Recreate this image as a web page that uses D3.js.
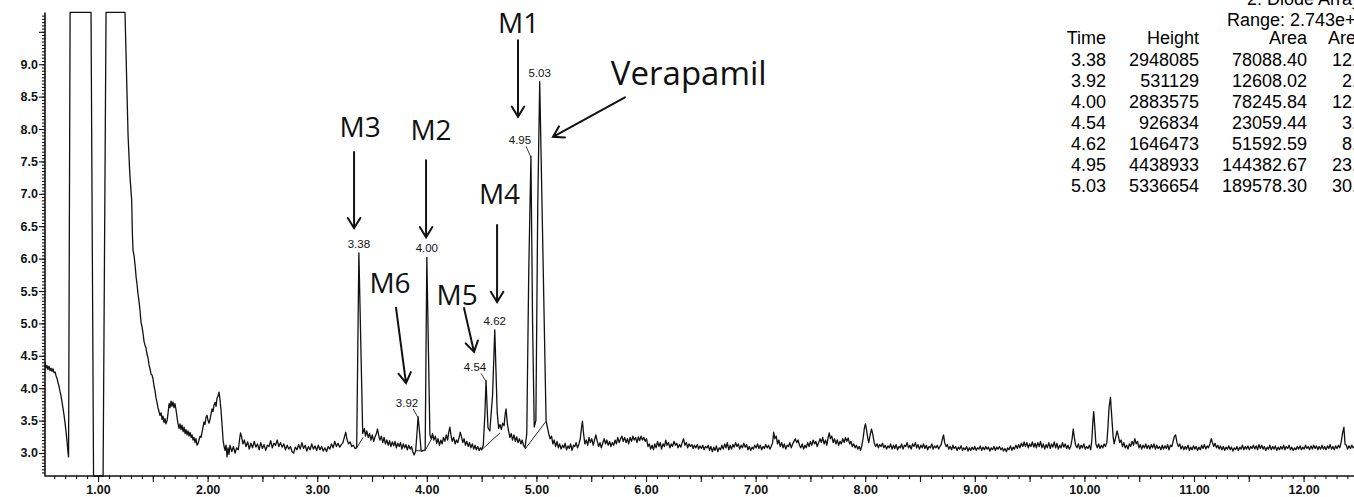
<!DOCTYPE html>
<html lang="en">
<head>
<meta charset="UTF-8">
<title>Chromatogram</title>
<script src="https://d3js.org/d3.v7.min.js"></script>
<style>
  body { margin: 0; background: #fff; overflow: hidden; }
  svg { display: block; }
  .axis text { font-family: "Liberation Sans", Arial, sans-serif; font-size: 12.5px; font-weight: bold; fill: #111; }
  .axis line, .axis path { stroke: #111; }
  .peak-label { font-family: "Liberation Sans", Arial, sans-serif; font-size: 11.5px; fill: #111; }
  .callout { font-family: "Open Sans", sans-serif; fill: #111; }
  .table text { font-family: "Liberation Sans", Arial, sans-serif; font-size: 18px; fill: #000; }
</style>
</head>
<body>
<script>
// trace: [time (min), signal]
const trace = [
  [0.516,4.40],[0.525,4.31],[0.534,4.35],[0.543,4.29],[0.553,4.34],[0.562,4.27],[0.571,4.31],[0.580,4.26],[0.589,4.30],[0.598,4.24],
  [0.608,4.25],[0.617,4.19],[0.626,4.15],[0.635,4.08],[0.644,4.03],[0.653,3.95],[0.662,3.88],[0.672,3.78],[0.681,3.68],[0.690,3.58],
  [0.699,3.46],[0.708,3.33],[0.717,3.18],[0.725,3.02],[0.731,2.94],
  [0.745,9.80],[0.936,9.80],[0.959,2.645],[1.046,2.645],[1.073,9.80],[1.246,9.80],
  [1.274,7.90],[1.290,7.30],[1.307,6.90],[1.313,6.40],[1.319,6.13],[1.328,6.05],[1.338,5.90],[1.347,5.72],[1.356,5.60],[1.365,5.45],
  [1.374,5.34],[1.383,5.20],[1.392,5.02],[1.401,4.95],[1.411,4.84],[1.420,4.72],[1.429,4.66],[1.438,4.62],[1.447,4.52],[1.456,4.47],
  [1.465,4.36],[1.474,4.30],[1.483,4.22],[1.493,4.20],[1.502,4.14],[1.511,4.03],[1.520,3.96],[1.529,3.85],[1.538,3.78],[1.547,3.70],
  [1.556,3.64],[1.565,3.58],[1.575,3.62],[1.584,3.52],[1.593,3.57],[1.602,3.47],[1.611,3.53],[1.620,3.45],[1.630,3.50],[1.639,3.62],
  [1.648,3.76],[1.657,3.70],[1.666,3.80],[1.675,3.72],[1.684,3.79],[1.693,3.70],[1.702,3.76],[1.712,3.66],[1.721,3.55],[1.730,3.45],
  [1.739,3.38],[1.748,3.45],[1.757,3.36],[1.766,3.43],[1.776,3.33],[1.785,3.40],[1.794,3.30],[1.803,3.36],[1.812,3.28],[1.821,3.34],
  [1.830,3.26],[1.840,3.32],[1.849,3.24],[1.858,3.28],[1.867,3.20],[1.876,3.24],[1.885,3.16],[1.894,3.22],[1.903,3.12],[1.912,3.14],
  [1.921,3.20],[1.931,3.26],[1.940,3.24],[1.949,3.32],[1.958,3.40],[1.967,3.48],[1.976,3.44],[1.985,3.55],[1.995,3.58],[2.004,3.50],
  [2.013,3.46],[2.022,3.52],[2.031,3.60],[2.040,3.68],[2.049,3.64],[2.058,3.74],[2.068,3.78],[2.077,3.72],[2.086,3.85],[2.095,3.88],
  [2.104,3.94],[2.113,3.82],[2.122,3.66],[2.131,3.45],[2.141,3.20],[2.150,3.10],[2.159,3.04],[2.168,3.12],[2.177,2.94],[2.186,3.08],
  [2.195,2.98],[2.204,3.12],
  [2.220,3.02],[2.235,3.10],[2.250,3.00],[2.265,3.08],[2.280,3.05],[2.292,3.22],[2.300,3.31],[2.310,3.25],[2.322,3.14],[2.335,3.20],
  [2.350,3.10],[2.365,3.17],[2.380,3.06],[2.395,3.15],[2.410,3.08],[2.425,3.18],[2.440,3.09],[2.455,3.14],[2.470,3.05],[2.485,3.16],
  [2.500,3.07],[2.515,3.13],[2.530,3.04],[2.545,3.12],[2.560,3.10],[2.575,3.19],[2.590,3.08],[2.605,3.15],[2.620,3.12],[2.635,3.20],
  [2.650,3.10],[2.665,3.16],[2.680,3.09],[2.695,3.14],[2.710,3.05],[2.725,3.12],[2.740,3.06],[2.755,3.10],[2.770,3.02],[2.785,3.00],
  [2.800,3.09],[2.815,3.05],[2.830,3.13],[2.845,3.06],[2.860,3.16],[2.875,3.07],[2.890,3.12],[2.905,3.03],[2.920,3.10],[2.935,3.05],
  [2.950,3.14],[2.965,3.06],[2.980,3.11],[2.995,3.04],[3.010,3.12],[3.025,3.05],[3.040,3.10],[3.055,3.03],[3.070,3.08],[3.085,3.02],
  [3.100,3.10],[3.115,3.06],[3.130,3.14],[3.145,3.08],[3.160,3.18],[3.175,3.10],[3.190,3.15],[3.205,3.09],[3.220,3.13],[3.235,3.16],
  [3.250,3.26],[3.260,3.32],[3.270,3.22],[3.285,3.14],[3.300,3.17],[3.315,3.10],[3.330,3.12],[3.345,3.07],[3.360,3.08],
  [3.380,6.09],[3.415,3.30],
  [3.430,3.38],[3.440,3.26],[3.452,3.34],[3.465,3.24],[3.478,3.30],[3.490,3.20],[3.502,3.28],[3.515,3.18],[3.528,3.25],[3.540,3.30],
  [3.550,3.37],[3.560,3.28],[3.572,3.20],[3.585,3.26],[3.598,3.16],[3.610,3.24],[3.622,3.14],[3.635,3.20],[3.648,3.12],[3.660,3.19],
  [3.672,3.10],[3.685,3.17],[3.698,3.11],[3.710,3.18],[3.722,3.08],[3.735,3.15],[3.748,3.10],[3.760,3.16],[3.772,3.06],[3.785,3.14],
  [3.798,3.08],[3.810,3.13],[3.822,3.05],[3.835,3.12],[3.848,3.06],[3.860,3.10],[3.872,3.02],[3.884,2.97],[3.898,3.03],
  [3.910,3.30],[3.920,3.56],[3.935,3.30],[3.948,3.03],[3.970,3.04],[3.985,3.05],[4.000,6.02],[4.028,3.28],
  [4.040,3.22],[4.052,3.30],[4.065,3.20],[4.078,3.26],[4.090,3.15],[4.102,3.22],[4.115,3.12],[4.128,3.20],[4.140,3.14],[4.152,3.24],
  [4.165,3.18],[4.178,3.28],[4.190,3.20],[4.200,3.32],[4.210,3.40],[4.220,3.28],[4.232,3.18],[4.245,3.24],[4.258,3.14],[4.270,3.20],
  [4.282,3.16],[4.295,3.24],[4.305,3.32],[4.315,3.26],[4.328,3.16],[4.340,3.22],[4.352,3.12],[4.365,3.18],[4.378,3.10],[4.390,3.16],
  [4.402,3.08],[4.415,3.14],[4.428,3.06],[4.440,3.12],[4.452,3.05],[4.465,3.10],[4.478,3.04],[4.490,3.08],[4.500,3.05],
  [4.515,3.12],[4.530,3.60],[4.540,4.12],[4.558,3.39],[4.575,3.34],[4.600,3.90],[4.620,4.90],[4.642,3.63],[4.655,3.38],[4.668,3.44],
  [4.680,3.36],[4.692,3.46],[4.705,3.42],[4.715,3.60],[4.723,3.68],[4.735,3.45],[4.745,3.35],[4.758,3.24],[4.770,3.30],[4.782,3.20],
  [4.795,3.28],[4.808,3.18],[4.820,3.25],[4.832,3.16],[4.845,3.22],[4.858,3.14],[4.870,3.20],[4.882,3.12],[4.896,3.08],
  [4.912,3.30],[4.930,5.80],[4.950,7.58],[4.965,5.00],[4.980,3.40],[4.995,3.50],[5.012,6.80],[5.030,8.73],[5.088,3.50],
  [5.100,3.40],[5.112,3.30],[5.125,3.22],[5.138,3.26],[5.150,3.14],[5.162,3.20],[5.175,3.10],[5.188,3.18],[5.200,3.08],[5.212,3.14],
  [5.225,3.06],[5.238,3.12],[5.250,3.08],[5.262,3.15],[5.275,3.05],[5.288,3.11],[5.300,3.07],[5.312,3.14],[5.325,3.04],[5.338,3.12],
  [5.350,3.10],[5.362,3.16],[5.375,3.08],[5.388,3.14],[5.400,3.22],[5.412,3.40],[5.420,3.49],[5.430,3.30],[5.442,3.14],[5.455,3.20],
  [5.468,3.12],[5.480,3.24],[5.492,3.16],[5.505,3.22],[5.518,3.12],[5.530,3.20],[5.542,3.28],[5.555,3.18],[5.568,3.10],[5.580,3.16],
  [5.592,3.08],[5.605,3.15],[5.618,3.22],[5.630,3.14],[5.642,3.20],[5.655,3.12],[5.668,3.18],[5.680,3.10],[5.692,3.16],[5.705,3.12],
  [5.718,3.20],[5.730,3.14],[5.742,3.24],[5.755,3.16],[5.768,3.22],[5.780,3.26],[5.792,3.18],[5.805,3.24],[5.818,3.16],[5.830,3.22],
  [5.842,3.14],[5.855,3.24],[5.868,3.18],[5.880,3.26],[5.892,3.20],[5.905,3.24],[5.918,3.16],[5.930,3.25],[5.942,3.19],[5.955,3.26],
  [5.968,3.20],[5.980,3.24],[5.992,3.18],[6.005,3.22],[6.018,3.10],[6.030,3.14],[6.042,3.06],[6.055,3.12],[6.068,3.05],[6.080,3.14],
  [6.092,3.08],[6.105,3.18],[6.118,3.10],[6.130,3.16],[6.142,3.06],[6.155,3.14],[6.168,3.10],[6.180,3.20],[6.192,3.12],[6.205,3.16],
  [6.218,3.08],[6.230,3.14],[6.242,3.10],[6.255,3.18],[6.268,3.12],[6.280,3.15],[6.292,3.08],[6.305,3.13],[6.318,3.09],[6.330,3.16],
  [6.342,3.22],[6.355,3.12],[6.368,3.16],[6.380,3.08],[6.392,3.14],[6.405,3.10],[6.418,3.13],[6.430,3.07],[6.442,3.12],[6.455,3.08],
  [6.468,3.13],[6.480,3.06],[6.492,3.11],[6.505,3.07],[6.518,3.12],[6.530,3.05],[6.542,3.10],[6.555,3.08],[6.568,3.12],[6.580,3.04],
  [6.592,3.10],[6.605,3.02],[6.618,3.09],[6.630,3.04],[6.642,3.11],[6.655,3.02],[6.668,3.08],[6.680,3.05],[6.692,3.12],[6.705,3.06],
  [6.718,3.14],[6.730,3.08],[6.742,3.16],[6.755,3.05],[6.768,3.12],[6.780,3.06],[6.792,3.13],[6.805,3.09],[6.818,3.16],[6.830,3.10],
  [6.842,3.14],[6.855,3.06],[6.868,3.12],[6.880,3.08],[6.892,3.15],[6.905,3.09],[6.918,3.13],[6.930,3.05],[6.942,3.10],[6.955,3.04],
  [6.968,3.09],[6.980,3.06],[6.992,3.12],[7.005,3.08],[7.018,3.14],[7.030,3.07],[7.042,3.12],[7.055,3.05],[7.068,3.10],[7.080,3.07],
  [7.092,3.13],[7.105,3.08],[7.118,3.12],[7.130,3.06],[7.142,3.10],[7.155,3.16],[7.165,3.32],[7.175,3.22],[7.188,3.26],[7.200,3.14],
  [7.212,3.20],[7.225,3.10],[7.238,3.16],[7.250,3.08],[7.262,3.14],[7.275,3.06],[7.288,3.12],[7.300,3.10],[7.312,3.16],[7.325,3.08],
  [7.338,3.14],[7.350,3.18],[7.362,3.22],[7.375,3.16],[7.388,3.20],[7.400,3.12],[7.412,3.08],[7.425,3.14],[7.438,3.06],[7.450,3.12],
  [7.462,3.08],[7.475,3.16],[7.488,3.10],[7.500,3.18],[7.512,3.12],[7.525,3.20],[7.538,3.14],[7.550,3.18],[7.562,3.10],[7.575,3.16],
  [7.588,3.22],[7.600,3.16],[7.612,3.24],[7.625,3.14],[7.638,3.20],[7.650,3.12],[7.662,3.24],[7.672,3.31],[7.682,3.22],[7.695,3.26],
  [7.708,3.16],[7.720,3.22],[7.732,3.14],[7.745,3.20],[7.758,3.12],[7.770,3.18],[7.782,3.14],[7.795,3.22],[7.808,3.16],[7.820,3.24],
  [7.832,3.18],[7.845,3.23],[7.858,3.14],[7.870,3.18],[7.882,3.10],[7.895,3.14],[7.908,3.08],[7.920,3.12],[7.932,3.06],[7.945,3.10],
  [7.958,3.04],[7.970,3.12],[7.982,3.24],[7.992,3.38],[8.002,3.45],[8.012,3.36],[8.022,3.24],[8.032,3.16],[8.045,3.28],[8.058,3.37],
  [8.070,3.28],[8.082,3.16],[8.095,3.10],[8.108,3.14],[8.120,3.08],[8.132,3.13],[8.145,3.10],[8.158,3.15],[8.170,3.08],[8.182,3.12],
  [8.195,3.06],[8.208,3.11],[8.220,3.08],[8.232,3.14],[8.245,3.06],[8.258,3.12],[8.270,3.07],[8.282,3.13],[8.295,3.05],[8.308,3.10],
  [8.320,3.08],[8.332,3.14],[8.345,3.06],[8.358,3.12],[8.370,3.10],[8.382,3.16],[8.395,3.08],[8.408,3.12],[8.420,3.06],[8.432,3.14],
  [8.445,3.10],[8.458,3.16],[8.470,3.08],[8.482,3.13],[8.495,3.06],[8.508,3.12],[8.520,3.08],[8.532,3.14],[8.545,3.07],[8.558,3.12],
  [8.570,3.05],[8.582,3.10],[8.595,3.08],[8.608,3.14],[8.620,3.06],[8.632,3.11],[8.645,3.08],[8.658,3.12],[8.670,3.06],[8.682,3.10],
  [8.695,3.14],[8.705,3.22],[8.715,3.28],[8.725,3.16],[8.738,3.10],[8.750,3.13],[8.762,3.06],[8.775,3.10],[8.788,3.05],[8.800,3.12],
  [8.812,3.07],[8.825,3.10],[8.838,3.04],[8.850,3.09],[8.862,3.06],[8.875,3.11],[8.888,3.04],[8.900,3.08],[8.912,3.05],[8.925,3.10],
  [8.938,3.03],[8.950,3.08],[8.962,3.04],[8.975,3.09],[8.988,3.05],[9.000,3.10],[9.012,3.04],[9.025,3.08],[9.038,3.06],[9.050,3.11],
  [9.062,3.04],[9.075,3.09],[9.088,3.05],[9.100,3.10],[9.112,3.06],[9.125,3.09],[9.138,3.03],[9.150,3.08],[9.162,3.05],[9.175,3.10],
  [9.188,3.04],[9.200,3.09],[9.212,3.06],[9.225,3.10],[9.238,3.05],[9.250,3.08],[9.262,3.03],[9.275,3.07],[9.288,3.02],[9.300,3.08],
  [9.312,3.05],[9.325,3.11],[9.338,3.04],[9.350,3.09],[9.362,3.06],[9.375,3.12],[9.388,3.07],[9.400,3.13],[9.412,3.08],[9.425,3.15],
  [9.438,3.10],[9.450,3.17],[9.462,3.10],[9.475,3.16],[9.488,3.08],[9.500,3.14],[9.512,3.10],[9.525,3.17],[9.538,3.09],[9.550,3.15],
  [9.562,3.08],[9.575,3.16],[9.588,3.10],[9.600,3.18],[9.612,3.08],[9.625,3.14],[9.638,3.06],[9.650,3.13],[9.662,3.08],[9.675,3.16],
  [9.688,3.07],[9.700,3.14],[9.712,3.09],[9.725,3.17],[9.738,3.08],[9.750,3.15],[9.762,3.06],[9.775,3.12],[9.788,3.08],[9.800,3.16],
  [9.812,3.09],[9.825,3.14],[9.838,3.07],[9.850,3.12],[9.862,3.06],[9.875,3.10],[9.888,3.22],[9.898,3.37],[9.908,3.24],[9.920,3.12],
  [9.932,3.08],[9.945,3.14],[9.958,3.06],[9.970,3.12],[9.982,3.08],[9.995,3.14],[10.008,3.06],[10.020,3.10],[10.032,3.07],[10.045,3.12],
  [10.058,3.05],[10.068,3.20],[10.078,3.50],[10.085,3.64],[10.095,3.40],[10.105,3.14],[10.118,3.08],[10.130,3.14],[10.142,3.07],[10.155,3.12],
  [10.168,3.08],[10.180,3.14],[10.192,3.10],[10.205,3.16],[10.215,3.40],[10.225,3.70],[10.238,3.86],[10.250,3.55],[10.262,3.25],[10.272,3.14],
  [10.285,3.24],[10.298,3.34],[10.310,3.26],[10.322,3.16],[10.335,3.20],[10.348,3.10],[10.360,3.16],[10.372,3.08],[10.385,3.12],[10.398,3.06],
  [10.410,3.14],[10.422,3.10],[10.435,3.18],[10.448,3.12],[10.460,3.22],[10.472,3.14],[10.485,3.18],[10.498,3.08],[10.510,3.13],[10.522,3.06],
  [10.535,3.12],[10.548,3.08],[10.560,3.14],[10.572,3.07],[10.585,3.12],[10.598,3.06],[10.610,3.13],[10.622,3.08],[10.635,3.14],[10.648,3.06],
  [10.660,3.12],[10.672,3.07],[10.685,3.10],[10.698,3.05],[10.710,3.12],[10.722,3.06],[10.735,3.11],[10.748,3.07],[10.760,3.13],[10.772,3.05],
  [10.785,3.12],[10.798,3.10],[10.810,3.18],[10.822,3.26],[10.832,3.28],[10.845,3.16],[10.858,3.10],[10.870,3.14],[10.882,3.06],[10.895,3.11],
  [10.908,3.05],[10.920,3.10],[10.932,3.06],[10.945,3.12],[10.958,3.04],[10.970,3.09],[10.982,3.05],[10.995,3.11],[11.008,3.06],[11.020,3.10],
  [11.032,3.04],[11.045,3.09],[11.058,3.05],[11.070,3.12],[11.082,3.07],[11.095,3.13],[11.108,3.06],[11.120,3.11],[11.132,3.08],[11.145,3.14],
  [11.158,3.22],[11.168,3.16],[11.180,3.10],[11.192,3.15],[11.205,3.08],[11.218,3.12],[11.230,3.06],[11.242,3.11],[11.255,3.05],[11.268,3.10],
  [11.280,3.04],[11.292,3.09],[11.305,3.06],[11.318,3.11],[11.330,3.05],[11.342,3.09],[11.355,3.03],[11.368,3.08],[11.380,3.05],[11.392,3.10],
  [11.405,3.04],[11.418,3.09],[11.430,3.06],[11.442,3.12],[11.455,3.05],[11.468,3.10],[11.480,3.06],[11.492,3.11],[11.505,3.05],[11.518,3.10],
  [11.530,3.07],[11.542,3.12],[11.555,3.06],[11.568,3.11],[11.580,3.05],[11.592,3.13],[11.605,3.07],[11.618,3.12],[11.630,3.06],[11.642,3.10],
  [11.655,3.04],[11.668,3.09],[11.680,3.06],[11.692,3.12],[11.705,3.05],[11.718,3.10],[11.730,3.06],[11.742,3.11],[11.755,3.04],[11.768,3.09],
  [11.780,3.05],[11.792,3.10],[11.805,3.06],[11.818,3.12],[11.830,3.05],[11.842,3.10],[11.855,3.07],[11.868,3.12],[11.880,3.05],[11.892,3.09],
  [11.905,3.04],[11.918,3.08],[11.930,3.05],[11.942,3.10],[11.955,3.06],[11.968,3.11],[11.980,3.05],[11.992,3.09],[12.005,3.06],[12.018,3.12],
  [12.030,3.07],[12.042,3.10],[12.055,3.05],[12.068,3.11],[12.080,3.06],[12.092,3.12],[12.105,3.07],[12.118,3.11],[12.130,3.05],[12.142,3.10],
  [12.155,3.06],[12.168,3.12],[12.180,3.06],[12.192,3.10],[12.205,3.05],[12.218,3.11],[12.230,3.07],[12.242,3.13],[12.255,3.06],[12.268,3.10],
  [12.280,3.05],[12.292,3.11],[12.305,3.07],[12.318,3.12],[12.330,3.08],[12.342,3.16],[12.355,3.30],[12.368,3.40],[12.378,3.14],[12.390,3.12],
  [12.402,3.06],[12.415,3.11],[12.428,3.07],[12.440,3.12],[12.452,3.08],[12.465,3.10]
];

// integration baselines drawn under the integrated peaks: [t0, v0, t1, v1]
const integrationLines = [
  [3.360, 3.08, 3.418, 3.24],
  [3.898, 3.035, 3.984, 3.035],
  [3.984, 3.035, 4.057, 3.26],
  [4.500, 3.05, 4.668, 3.31],
  [4.896, 3.06, 5.088, 3.49]
];

// peak table
const peakTimes   = [3.38, 3.92, 4.00, 4.54, 4.62, 4.95, 5.03];
const peakApex    = [6.09, 3.56, 6.02, 4.12, 4.90, 7.58, 8.73];
const peakHeights = [2948085, 531129, 2883575, 926834, 1646473, 4438933, 5336654];
const peakAreas   = ["78088.40", "12608.02", "78245.84", "23059.44", "51592.59", "144382.67", "189578.30"];
const peakAreaPct = ["12.60", "2.03", "12.62", "3.72", "8.32", "23.29", "30.58"];
const tableHeader = ["Time", "Height", "Area", "Area %"];
const tableTitle  = "2: Diode Array";
const tableRange  = "Range: 2.743e+1";

const xLabels = [1, 2, 3, 4, 5, 6, 7, 8, 9, 10, 11, 12];
const yLabels = [3.0, 3.5, 4.0, 4.5, 5.0, 5.5, 6.0, 6.5, 7.0, 7.5, 8.0, 8.5, 9.0];

// hand-drawn callouts: text anchor and arrow in data units
const callouts = [
  { text: "M1", at: [4.837, 9.48], from: [4.832, 9.37], to: [4.832, 8.19] },
  { text: "M3", at: [3.391, 7.88], from: [3.336, 7.645], to: [3.336, 6.47] },
  { text: "M2", at: [4.038, 7.83], from: [3.993, 7.52], to: [3.993, 6.33] },
  { text: "M4", at: [4.663, 6.84], from: [4.641, 6.52], to: [4.641, 5.33] },
  { text: "M6", at: [3.664, 5.47], from: [3.719, 5.24], to: [3.810, 4.08] },
  { text: "M5", at: [4.276, 5.28], from: [4.339, 5.24], to: [4.431, 4.56] },
  { text: "Verapamil", at: [6.39, 8.68], from: [5.808, 8.49], to: [5.151, 7.88], big: true }
];

const W = 1354, H = 497;
const svg = d3.select("body").append("svg")
    .attr("width", W)
    .attr("height", H);

const x = d3.scaleLinear().domain([0.516, 12.46]).range([45, W]);
const y = d3.scaleLinear().domain([2.645, 9.8]).range([476, 12.4]);

// axes
const yMinor = d3.range(2.70, 9.80, 0.05);
const yMajor = d3.range(3.0, 9.76, 0.5);
const xMinor = d3.range(0.6, 12.5, 0.1);
const xMajor = d3.range(1.0, 12.5, 0.5);

const yAxisMinor = svg.append("g").attr("class", "axis")
    .attr("transform", "translate(45,0)")
    .call(d3.axisLeft(y).tickValues(yMinor).tickSize(3).tickFormat(""));
yAxisMinor.select(".domain").remove();

const yAxisMajor = svg.append("g").attr("class", "axis")
    .attr("transform", "translate(45,0)")
    .call(d3.axisLeft(y).tickValues(yMajor).tickSize(6).tickPadding(1)
      .tickFormat(d => yLabels.some(v => Math.abs(v - d) < 1e-6) ? d3.format(".1f")(d) : ""));
yAxisMajor.select(".domain").remove();

const xAxisMinor = svg.append("g").attr("class", "axis")
    .attr("transform", "translate(0,476)")
    .call(d3.axisBottom(x).tickValues(xMinor).tickSize(3).tickFormat(""));
xAxisMinor.select(".domain").remove();

const xAxisMajor = svg.append("g").attr("class", "axis")
    .attr("transform", "translate(0,476)")
    .call(d3.axisBottom(x).tickValues(xMajor).tickSize(6).tickPadding(3)
      .tickFormat(d => xLabels.some(v => Math.abs(v - d) < 1e-6) ? d3.format(".2f")(d) : ""));
xAxisMajor.select(".domain").remove();

svg.selectAll(".axis line").attr("stroke-width", 1.1);

// axis lines
svg.append("line").attr("x1", 45).attr("x2", 45).attr("y1", y(9.8)).attr("y2", 476.5)
    .attr("stroke", "#111").attr("stroke-width", 1.6);
svg.append("line").attr("x1", 45).attr("x2", W).attr("y1", 476).attr("y2", 476)
    .attr("stroke", "#111").attr("stroke-width", 1.6);

// trace
const line = d3.line().x(d => x(d[0])).y(d => y(d[1]));
svg.append("path")
    .datum(trace)
    .attr("d", line)
    .attr("fill", "none")
    .attr("stroke", "#111")
    .attr("stroke-width", 1.3)
    .attr("stroke-linejoin", "round");

// integration baselines
svg.selectAll(".integ")
  .data(integrationLines)
  .enter()
  .append("line")
    .attr("class", "integ")
    .attr("x1", d => x(d[0])).attr("y1", d => y(d[1]))
    .attr("x2", d => x(d[2])).attr("y2", d => y(d[3]))
    .attr("stroke", "#222")
    .attr("stroke-width", 1);

// peak labels (some sit to the left with a short leader)
const labelShift = { "3.92": [-11, -10], "4.54": [-11, -9], "4.95": [-11, -12] };
peakTimes.forEach((t, i) => {
  const key = d3.format(".2f")(t);
  const px = x(t), py = y(peakApex[i]);
  const sh = labelShift[key] || [0, -5];
  svg.append("text")
      .attr("class", "peak-label")
      .attr("x", px + sh[0])
      .attr("y", py + sh[1])
      .attr("text-anchor", "middle")
      .text(key);
  if (labelShift[key]) {
    svg.append("line")
        .attr("x1", px + sh[0] + 6).attr("y1", py + sh[1] + 2)
        .attr("x2", px).attr("y2", py + 1)
        .attr("stroke", "#222").attr("stroke-width", 0.9);
  }
});

// callouts
callouts.forEach(c => {
  svg.append("text")
      .attr("class", "callout")
      .attr("x", x(c.at[0]))
      .attr("y", y(c.at[1]))
      .attr("text-anchor", "middle")
      .attr("font-size", c.big ? 33 : 28)
      .text(c.text);
  const x1 = x(c.from[0]), y1 = y(c.from[1]), x2 = x(c.to[0]), y2 = y(c.to[1]);
  const ang = Math.atan2(y2 - y1, x2 - x1);
  const len = 12, spread = 0.55;
  const hx1 = x2 - len * Math.cos(ang - spread), hy1 = y2 - len * Math.sin(ang - spread);
  const hx2 = x2 - len * Math.cos(ang + spread), hy2 = y2 - len * Math.sin(ang + spread);
  svg.append("path")
      .attr("d", `M${x1},${y1}L${x2},${y2}M${hx1},${hy1}L${x2},${y2}L${hx2},${hy2}`)
      .attr("fill", "none")
      .attr("stroke", "#111")
      .attr("stroke-width", 2)
      .attr("stroke-linecap", "round");
});

// peak table, top right (runs off the edge like the source)
const table = svg.append("g").attr("class", "table");
table.append("text").attr("x", 1247).attr("y", 5).text(tableTitle);
table.append("text").attr("x", 1227).attr("y", 26).text(tableRange);
const colRight = [1106, 1199, 1307, 1387];
tableHeader.forEach((h, j) => {
  table.append("text").attr("x", colRight[j]).attr("y", 44)
      .attr("text-anchor", "end").text(h);
});
peakTimes.forEach((t, i) => {
  const row = [d3.format(".2f")(t), String(peakHeights[i]), peakAreas[i], peakAreaPct[i]];
  const ry = 65.5 + i * 21.05;
  row.forEach((cell, j) => {
    table.append("text").attr("x", colRight[j] - (j === 3 ? 10 : 0)).attr("y", ry)
        .attr("text-anchor", "end").text(cell);
  });
});
</script>
</body>
</html>
